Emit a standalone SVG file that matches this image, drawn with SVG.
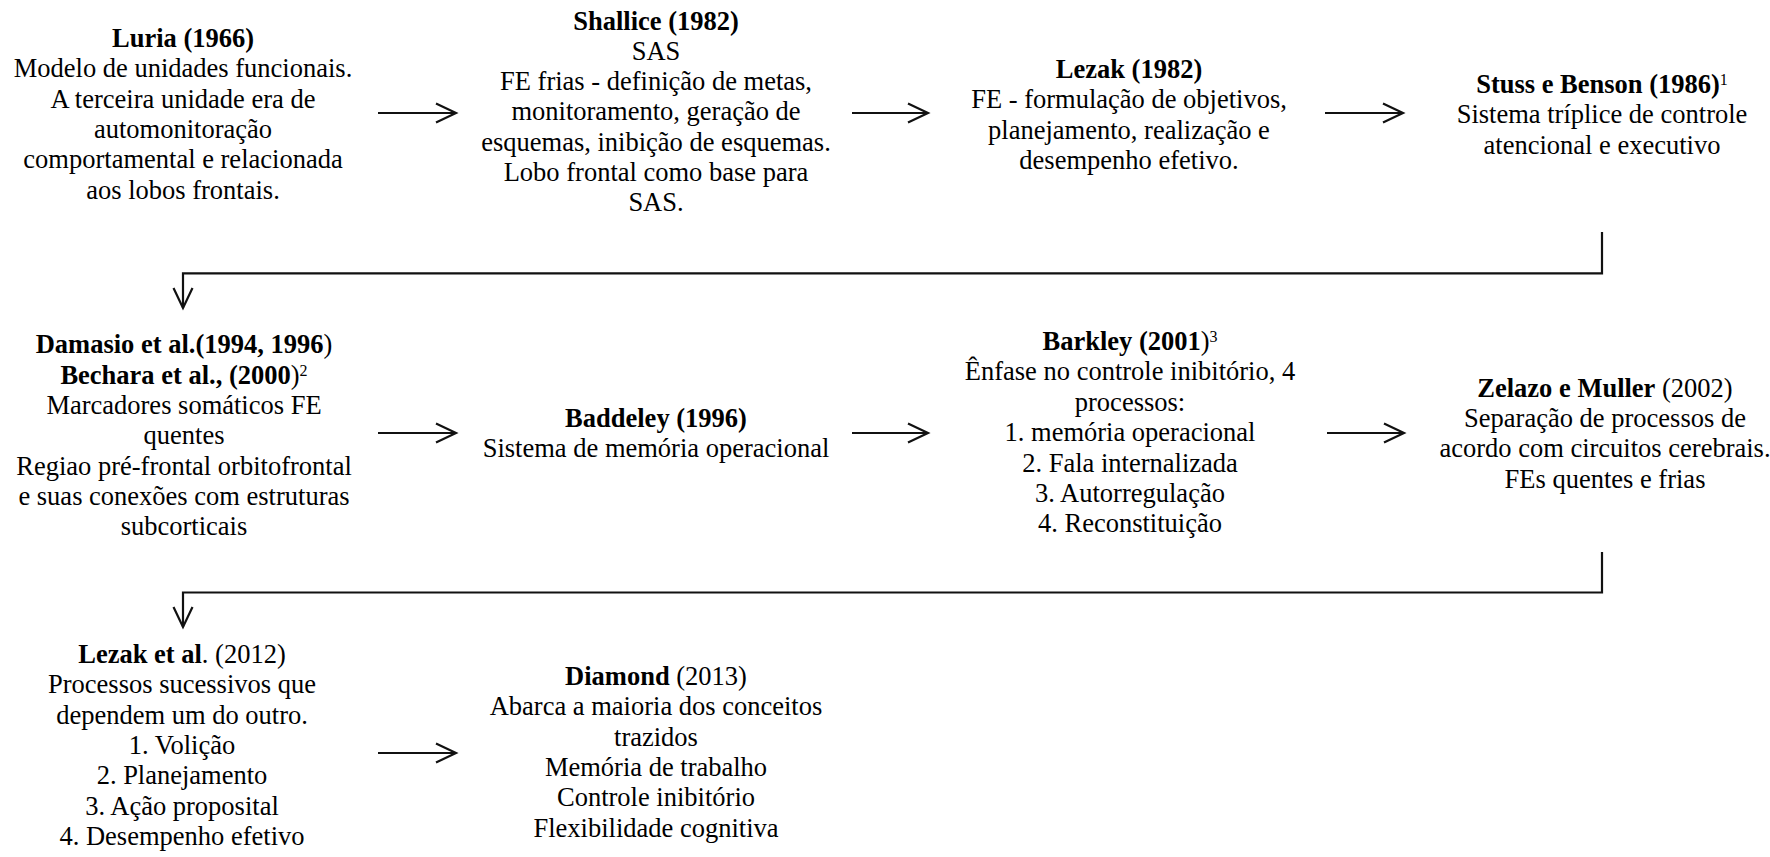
<svg xmlns="http://www.w3.org/2000/svg" id="timeline" width="1770" height="857" viewBox="0 0 1770 857">
  <style>
    #timeline text { font-family: "Liberation Serif", "Times New Roman", serif; font-size: 26.5px; fill: #000; text-anchor: middle; }
    #timeline .b { font-weight: bold; }
    #timeline .sup { font-size: 16px; font-weight: normal; }
    .link { fill: none; stroke: #111; stroke-width: 2.2; }
  </style>
  <defs>
    <marker id="chev" markerUnits="userSpaceOnUse" markerWidth="24" markerHeight="24" refX="22" refY="12" orient="auto" overflow="visible">
      <path d="M2,2.5 L22,12 L2,21.5" fill="none" stroke="#111" stroke-width="2.2" stroke-linejoin="miter"/>
    </marker>
  </defs>

  <rect width="1770" height="857" fill="#fff"/>

  <!-- connectors -->
  <g id="connectors">
    <line class="link" x1="378" y1="113" x2="456" y2="113" marker-end="url(#chev)"/>
    <line class="link" x1="852" y1="113" x2="928" y2="113" marker-end="url(#chev)"/>
    <line class="link" x1="1325" y1="113" x2="1403" y2="113" marker-end="url(#chev)"/>
    <path class="link" d="M1602,232 V273.3 H183 V308" marker-end="url(#chev)"/>
    <line class="link" x1="378" y1="433" x2="456" y2="433" marker-end="url(#chev)"/>
    <line class="link" x1="852" y1="433" x2="928" y2="433" marker-end="url(#chev)"/>
    <line class="link" x1="1327" y1="433" x2="1404" y2="433" marker-end="url(#chev)"/>
    <path class="link" d="M1602,552 V592.5 H183 V627" marker-end="url(#chev)"/>
    <line class="link" x1="378" y1="753" x2="456" y2="753" marker-end="url(#chev)"/>
  </g>

  <!-- row 1 -->
  <g id="luria">
    <text x="183" y="47"><tspan class="b">Luria (1966)</tspan></text>
    <text x="183" y="77.3">Modelo de unidades funcionais.</text>
    <text x="183" y="107.6">A terceira unidade era de</text>
    <text x="183" y="137.9">automonitoração</text>
    <text x="183" y="168.2">comportamental e relacionada</text>
    <text x="183" y="198.5">aos lobos frontais.</text>
  </g>

  <g id="shallice">
    <text x="656" y="29.5"><tspan class="b">Shallice (1982)</tspan></text>
    <text x="656" y="59.8">SAS</text>
    <text x="656" y="90.1">FE frias - definição de metas,</text>
    <text x="656" y="120.4">monitoramento, geração de</text>
    <text x="656" y="150.7">esquemas, inibição de esquemas.</text>
    <text x="656" y="181">Lobo frontal como base para</text>
    <text x="656" y="211.3">SAS.</text>
  </g>

  <g id="lezak1982">
    <text x="1129" y="78"><tspan class="b">Lezak (1982)</tspan></text>
    <text x="1129" y="108.3">FE - formulação de objetivos,</text>
    <text x="1129" y="138.6">planejamento, realização e</text>
    <text x="1129" y="168.9">desempenho efetivo.</text>
  </g>

  <g id="stuss">
    <text x="1602" y="93"><tspan class="b">Stuss e Benson (1986)</tspan><tspan class="sup" dy="-8">1</tspan></text>
    <text x="1602" y="123.3">Sistema tríplice de controle</text>
    <text x="1602" y="153.6">atencional e executivo</text>
  </g>

  <!-- row 2 -->
  <g id="damasio">
    <text x="184" y="353.3"><tspan class="b">Damasio et al.(1994, 1996</tspan>)</text>
    <text x="184" y="383.6"><tspan class="b">Bechara et al., (2000</tspan>)<tspan class="sup" dy="-8">2</tspan></text>
    <text x="184" y="413.9">Marcadores somáticos FE</text>
    <text x="184" y="444.2">quentes</text>
    <text x="184" y="474.5">Regiao pré-frontal orbitofrontal</text>
    <text x="184" y="504.8">e suas conexões com estruturas</text>
    <text x="184" y="535.1">subcorticais</text>
  </g>

  <g id="baddeley">
    <text x="656" y="427"><tspan class="b">Baddeley (1996)</tspan></text>
    <text x="656" y="457.3">Sistema de memória operacional</text>
  </g>

  <g id="barkley">
    <text x="1130" y="350"><tspan class="b">Barkley (2001</tspan>)<tspan class="sup" dy="-8">3</tspan></text>
    <text x="1130" y="380.4">Ênfase no controle inibitório, 4</text>
    <text x="1130" y="410.8">processos:</text>
    <text x="1130" y="441.2">1. memória operacional</text>
    <text x="1130" y="471.6">2. Fala internalizada</text>
    <text x="1130" y="502">3. Autorregulação</text>
    <text x="1130" y="532.4">4. Reconstituição</text>
  </g>

  <g id="zelazo">
    <text x="1605" y="396.7"><tspan class="b">Zelazo e Muller</tspan> (2002)</text>
    <text x="1605" y="427">Separação de processos de</text>
    <text x="1605" y="457.3">acordo com circuitos cerebrais.</text>
    <text x="1605" y="487.6">FEs quentes e frias</text>
  </g>

  <!-- row 3 -->
  <g id="lezak2012">
    <text x="182" y="663"><tspan class="b">Lezak et al</tspan>. (2012)</text>
    <text x="182" y="693.3">Processos sucessivos que</text>
    <text x="182" y="723.6">dependem um do outro.</text>
    <text x="182" y="753.9">1. Volição</text>
    <text x="182" y="784.2">2. Planejamento</text>
    <text x="182" y="814.5">3. Ação proposital</text>
    <text x="182" y="844.8">4. Desempenho efetivo</text>
  </g>

  <g id="diamond">
    <text x="656" y="685"><tspan class="b">Diamond</tspan> (2013)</text>
    <text x="656" y="715.3">Abarca a maioria dos conceitos</text>
    <text x="656" y="745.6">trazidos</text>
    <text x="656" y="775.9">Memória de trabalho</text>
    <text x="656" y="806.2">Controle inibitório</text>
    <text x="656" y="836.5">Flexibilidade cognitiva</text>
  </g>
</svg>
